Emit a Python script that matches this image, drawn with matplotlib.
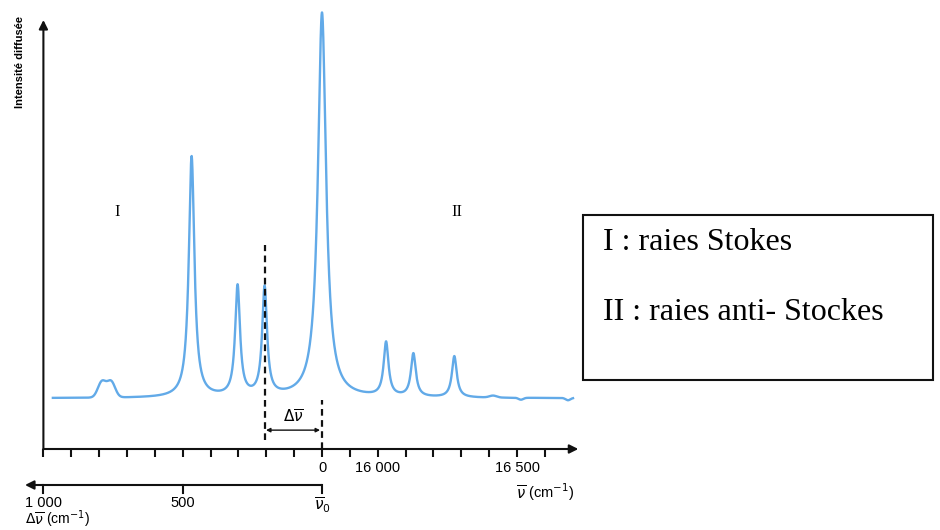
import numpy as np
import matplotlib.pyplot as plt
from matplotlib import transforms
from matplotlib.patches import Rectangle

# Raman spectrum (wavenumbers in cm-1)
nu0 = 15800
peak_pos = [15010, 15043, 15332, 15497, 15594, 15800, 16030, 16128, 16275, 16414, 16514, 16683]
peak_height = [4.1, 4.1, 62.6, 28.6, 28.1, 100.0, 14.0, 11.2, 10.7, 0.5, -0.5, -0.6]
peak_hwhm = [17, 17, 12, 10.5, 10.5, 17.5, 10.5, 10.5, 10.5, 15, 10, 10]
peak_shape = ["G", "G", "L", "L", "L", "L", "L", "L", "L", "G", "G", "G"]
baseline = 13.2
spec_start, spec_end = 14834, 16701
marked_peak = 4  # line used to show the shift

nu_ticks = [14800, 14900, 15000, 15100, 15200, 15300, 15400, 15500, 15600, 15700,
            15800, 15900, 16000, 16100, 16200, 16300, 16400, 16500, 16600]
nu_labels = {15800: "0", 16000: "16 000", 16500: "16 500"}
shift_ticks = [1000, 500]
shift_labels = ["1 000", "500"]

blue = "#62aae8"

nu = np.linspace(spec_start, spec_end, 4000)
inten = np.full_like(nu, baseline)
for p, h, w, s in zip(peak_pos, peak_height, peak_hwhm, peak_shape):
    if s == "L":
        inten += h / (1 + ((nu - p) / w) ** 2)
    else:
        inten += h * np.exp(-np.log(2) * ((nu - p) / w) ** 2)

fig = plt.figure(figsize=(9.4, 5.3), dpi=100)
W, H = 940, 530
px = 0.2786  # pixels per cm-1
left_px = 322 - (nu0 - 14800) * px
ax = fig.add_axes([left_px / W, 81 / H, (16720 - 14800) * px / W, 429 / H])
ax.set_xlim(14800, 16720)
ax.set_ylim(0, 429 / 3.85)

ax.plot(nu, inten, color=blue, lw=1.7, clip_on=False, zorder=3)

for s in ax.spines.values():
    s.set_visible(False)
ax.set_yticks([])
ax.set_xticks(nu_ticks)
ax.set_xticklabels([nu_labels.get(t, "") for t in nu_ticks])
ax.tick_params(axis="x", direction="out", length=6, width=1.5, pad=3,
               labelsize=10.5, color="#111111")
for lab in ax.get_xticklabels():
    lab.set_family("Liberation Sans")

arrow_kw = dict(arrowstyle="-|>", lw=1.5, color="#111111", mutation_scale=13,
                shrinkA=0, shrinkB=0)
ax.annotate("", xy=(1, 0), xytext=(0, 0), xycoords="axes fraction", arrowprops=arrow_kw)
ax.annotate("", xy=(0, 1), xytext=(0, 0), xycoords="axes fraction", arrowprops=arrow_kw)

# dashed markers and shift arrow
pk = peak_pos[marked_peak]
ax.plot([pk, pk], [2.3, 53.0], ls=(0, (3, 2)), color="#111111", lw=1.6, zorder=4)
ax.plot([nu0, nu0], [0, 12.7], ls=(0, (3, 2)), color="#111111", lw=1.6, zorder=4)
ax.annotate("", xy=(nu0 - 7, 4.9), xytext=(pk + 5, 4.9),
            arrowprops=dict(arrowstyle="<|-|>", lw=1, color="#111111",
                            mutation_scale=6, shrinkA=0, shrinkB=0))
ax.text((pk + nu0) / 2, 6.0, r"$\Delta\overline{\nu}$", ha="center", va="bottom",
        fontsize=11, family="Liberation Serif")

ax.text(15065, 61.5, "I", ha="center", va="center", fontsize=12, family="Liberation Serif")
ax.text(16285, 61.5, "II", ha="center", va="center", fontsize=12, family="Liberation Serif")

# lower axis: Raman shift scale
tr = transforms.blended_transform_factory(ax.transData, fig.transFigure)
y_low = 1 - 485 / H
y_tick = 1 - 493 / H
ax.annotate("", xy=(14734, y_low), xytext=(nu0, y_low), xycoords=tr,
            arrowprops=dict(arrowstyle="-|>", lw=1.5, color="#111111",
                            mutation_scale=13, shrinkA=0, shrinkB=0),
            annotation_clip=False)
for d, lab in zip(shift_ticks, shift_labels):
    ax.plot([nu0 - d, nu0 - d], [y_low, y_tick], color="#111111", lw=1.5,
            transform=tr, clip_on=False)
    ax.text(nu0 - d, 1 - 503 / H, lab, transform=tr, ha="center", va="center",
            fontsize=10.5, family="Liberation Sans")
ax.plot([nu0, nu0], [y_low, y_tick], color="#111111", lw=1.5, transform=tr, clip_on=False)
ax.text(nu0, 1 - 505 / H, r"$\overline{\nu}_0$", transform=tr, ha="center", va="center",
        fontsize=11, family="Liberation Serif")
ax.text(14734, 1 - 519 / H, r"$\Delta\overline{\nu}$ (cm$^{-1}$)", transform=tr,
        ha="left", va="center", fontsize=10, family="Liberation Sans")
ax.text(16602, 1 - 492 / H, r"$\overline{\nu}$ (cm$^{-1}$)", transform=tr,
        ha="center", va="center", fontsize=10.5, family="Liberation Sans")

fig.text(20 / W, 1 - 62 / H, "Intensité diffusée", rotation=90, ha="center", va="center",
         fontsize=8, fontweight="bold", family="Liberation Sans")

# legend box
fig.patches.append(Rectangle((583 / W, 1 - 380 / H), 350 / W, 165 / H, fill=False,
                             lw=1.5, edgecolor="#111111", transform=fig.transFigure))
fig.text(603 / W, 1 - 243 / H, "I : raies Stokes", ha="left", va="center",
         fontsize=23, family="Liberation Serif")
fig.text(603 / W, 1 - 313 / H, "II : raies anti- Stockes", ha="left", va="center",
         fontsize=23, family="Liberation Serif")

fig.savefig("out.png", dpi=100)
